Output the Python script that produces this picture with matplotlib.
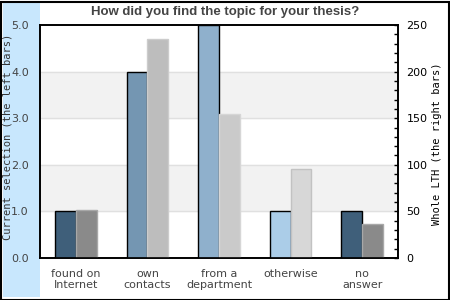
import matplotlib
matplotlib.use("Agg")
import matplotlib.pyplot as plt
from matplotlib.patches import Rectangle
from matplotlib.ticker import MultipleLocator
import numpy as np

categories = ["found on\nInternet", "own\ncontacts", "from a\ndepartment", "otherwise", "no\nanswer"]
current = [1, 4, 5, 1, 1]
whole_lth = [52, 235, 155, 95, 37]

left_colors = ["#3f5f7a", "#7496b2", "#8fb0cc", "#abcde8", "#3f5f7a"]
right_colors = ["#8a8a8a", "#bdbdbd", "#cacaca", "#d7d7d7", "#8a8a8a"]
right_edges = ["#a8a8a8", "#cccccc", "#d6d6d6", "#c2c2c2", "#a8a8a8"]

fig = plt.figure(figsize=(4.5, 3), dpi=100)
fig.patch.set_facecolor("white")

# light blue strip on the left and outer border
fig.patches.append(Rectangle((3 / 450, 3 / 300), 37 / 450, 294 / 300,
                             transform=fig.transFigure, facecolor="#c8e7fd",
                             edgecolor="none", zorder=-2))
fig.patches.append(Rectangle((0.5 / 450, 0.5 / 300), 448 / 450, 298 / 300,
                             transform=fig.transFigure, facecolor="none",
                             edgecolor="black", linewidth=1.5, zorder=-1))

ax = fig.add_axes([40 / 450, 42 / 300, 358 / 450, 233 / 300])
ax2 = ax.twinx()

x = np.arange(len(categories))
w = 0.29

# alternating bands
for lo in (1, 3):
    ax.axhspan(lo, lo + 1, color="#f2f2f2", zorder=0)
for y in (1, 2, 3, 4):
    ax.axhline(y, color="#e0e0e0", linewidth=1, zorder=0.5)

ax.bar(x - w / 2, current, width=w, color=left_colors, edgecolor="black",
       linewidth=1, zorder=3)
ax2.bar(x + w / 2, whole_lth, width=w, color=right_colors, edgecolor=right_edges,
        linewidth=1, zorder=2)

ax.set_xlim(-0.5, len(categories) - 0.5)
ax.set_ylim(0, 5)
ax2.set_ylim(0, 250)

ax.set_yticks([0, 1, 2, 3, 4, 5])
ax.set_yticklabels(["0.0", "1.0", "2.0", "3.0", "4.0", "5.0"])
ax.set_xticks(x)
ax.set_xticklabels(categories, linespacing=1.1)
ax.tick_params(axis="y", length=0, labelsize=8, labelcolor="#444444", pad=8)
ax.tick_params(axis="x", length=0, labelsize=8, labelcolor="#444444", pad=8)

ax2.yaxis.set_major_locator(MultipleLocator(50))
ax2.yaxis.set_minor_locator(MultipleLocator(10))
ax2.tick_params(axis="y", which="both", direction="in", length=3, width=1,
                labelsize=8, labelcolor="black", pad=6)

for a in (ax, ax2):
    for s in a.spines.values():
        s.set_linewidth(1.2)
        s.set_color("black")

ax.set_ylabel("Current selection (the left bars)", family="DejaVu Sans Mono",
              fontsize=7.5, color="#333333")
ax.yaxis.set_label_coords(-27 / 358, 0.52)
ax2.set_ylabel("Whole LTH (the right bars)", family="DejaVu Sans Mono",
               fontsize=7.5, color="black")
ax2.yaxis.set_label_coords(1 + 34 / 358, 0.49)

fig.text(225 / 450, 1 - 12 / 300, "How did you find the topic for your thesis?",
         ha="center", va="center", fontsize=9.5, fontweight="bold",
         color="#444444", family="Liberation Sans")

fig.savefig("out.png", dpi=100)
